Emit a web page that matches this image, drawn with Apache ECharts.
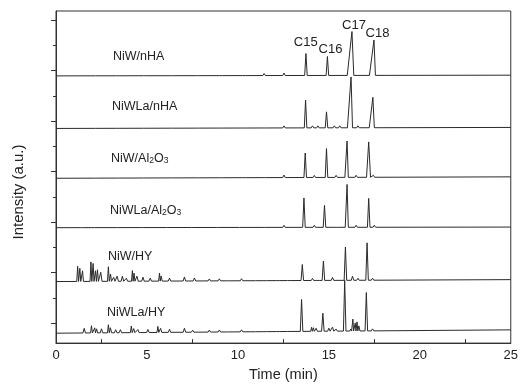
<!DOCTYPE html>
<html>
<head>
<meta charset="utf-8">
<script src="https://cdn.jsdelivr.net/npm/echarts@6/dist/echarts.min.js"></script>
<style>
  html, body { margin: 0; padding: 0; background: #fff; }
  #chart { width: 521px; height: 387px; }
</style>
</head>
<body>
<div id="chart"></div>
<script>
// Sample names, top to bottom
const sampleNames = ['NiW/nHA', 'NiWLa/nHA', 'NiW/Al2O3', 'NiWLa/Al2O3', 'NiW/HY', 'NiWLa/HY'];

// Vertical offset of each trace (intensity at t = 0 and t = 25 min)
const traceOffsets = [
  [244.7, 245.4],
  [192.7, 193.7],
  [143.4, 144.8],
  [94.5, 95.1],
  [41.2, 43.1],
  [-9.9, -6.6]
];

// Peaks: [retention time (min), intensity, left half-width, right half-width]
const peaksNiWnHA = [
  [2.24, 1], [3.4, 1], [4.87, 1.2], [6.33, 1], [7.78, 1], [9.07, 1], [10.34, 1],
  [11.44, 2], [12.53, 2.5],
  [13.74, 21.7], [14.92, 18.8], [16.27, 43.4, 0.26, 0.1], [17.48, 35, 0.25, 0.08]
];
const peaksNiWLanHA = [
  [2.24, 1], [3.4, 1], [4.87, 1], [6.33, 1], [7.78, 1], [9.07, 1], [10.34, 1],
  [11.44, 1.5], [12.53, 2],
  [13.72, 27.6], [14.1, 2], [14.4, 2], [14.87, 15.8], [15.3, 2], [15.6, 2],
  [16.22, 50.3, 0.2, 0.08], [16.6, 2], [17.42, 30.1, 0.2, 0.08]
];
const peaksNiWAl2O3 = [
  [2.2, 1], [3.4, 1], [4.87, 1.5], [6.33, 1], [7.78, 1], [9.07, 1], [10.34, 1],
  [11.44, 1.5], [12.53, 2.5],
  [13.7, 24.2], [14.2, 2], [14.87, 28.6], [15.4, 2], [16.0, 36, 0.12, 0.07],
  [16.5, 2], [17.19, 35, 0.12, 0.1], [17.45, 2]
];
const peaksNiWLaAl2O3 = [
  [1.4, 1], [2.04, 1], [3.32, 1], [4.69, 1], [6.14, 1], [7.51, 1], [8.88, 1], [10.16, 1],
  [11.44, 1.5], [12.53, 2],
  [13.63, 29.1], [14.2, 2], [14.76, 21.7], [15.4, 1.5], [16.0, 42.4, 0.1, 0.07],
  [16.5, 2], [17.19, 28.6], [17.5, 2]
];
const peaksNiWHY = [
  [1.19, 15, 0.05, 0.05], [1.31, 13, 0.05, 0.05], [1.46, 10.5, 0.05, 0.05],
  [1.92, 19.3, 0.05, 0.05], [2.04, 17.8, 0.05, 0.05], [2.17, 10.5, 0.05, 0.05],
  [2.28, 11.5, 0.05, 0.05], [2.46, 9], [2.88, 14.4, 0.05, 0.05], [3.0, 7, 0.05, 0.05],
  [3.17, 4], [3.36, 5], [3.65, 5], [3.87, 3], [4.2, 10.5, 0.05, 0.04], [4.29, 8, 0.04, 0.05],
  [4.45, 5], [4.78, 4], [5.18, 3], [5.69, 8, 0.05, 0.04], [5.78, 5, 0.04, 0.06], [6.24, 3],
  [7.06, 4], [7.61, 3], [8.43, 2], [8.98, 2], [9.5, 1.5], [10.2, 2], [10.9, 1.5],
  [11.5, 1.5], [12.2, 1.5], [12.8, 1.5],
  [13.54, 15.8], [14.1, 2], [14.4, 1.5], [14.7, 19.2], [15.2, 3], [15.91, 33],
  [16.3, 4], [16.6, 2], [17.1, 37], [17.4, 2]
];
const peaksNiWLaHY = [
  [1.55, 4.6], [1.95, 7.2, 0.05, 0.05], [2.13, 5, 0.05, 0.04], [2.23, 4, 0.04, 0.06],
  [2.5, 4], [2.88, 8, 0.05, 0.05], [2.99, 5], [3.28, 3], [3.54, 3],
  [4.14, 6.6, 0.05, 0.05], [4.27, 4], [4.5, 3], [5.05, 3], [5.6, 6, 0.05, 0.05],
  [5.75, 4], [6.24, 3], [7.06, 4], [7.51, 2], [8.43, 2], [8.98, 2], [9.5, 1.5],
  [10.2, 2], [10.9, 1.5], [11.5, 1.5], [12.2, 1.5], [12.8, 1.5],
  [13.5, 31.6], [14.05, 4, 0.05, 0.04], [14.15, 3.5, 0.04, 0.05], [14.3, 3],
  [14.67, 17.8], [15.0, 3], [15.2, 4], [15.4, 2], [15.87, 50.3],
  [16.2, 2, 0.05, 0.05], [16.32, 11.8, 0.05, 0.04], [16.45, 8, 0.04, 0.04],
  [16.55, 9, 0.04, 0.04], [16.65, 5, 0.04, 0.06], [17.06, 38], [17.4, 2]
];
const tracePeaks = [peaksNiWnHA, peaksNiWLanHA, peaksNiWAl2O3, peaksNiWLaAl2O3, peaksNiWHY, peaksNiWLaHY];

// Carbon-number labels above the NiW/nHA peaks
const carbonLabels = ['C15', 'C16', 'C17', 'C18'];

// Axis ticks
const timeTicks = [0, 5, 10, 15, 20, 25];
const timeMinorTicks = [2.5, 7.5, 12.5, 17.5, 22.5];
const intensityTicks = [0, 50, 100, 150, 200, 250, 300];
const intensityMinorTicks = [25, 75, 125, 175, 225, 275];

// Turn a peak list into a polyline on a (slightly drifting) baseline
function buildTrace(peaks, offset) {
  const [b0, b1] = offset;
  const base = t => b0 + (b1 - b0) * t / 25;
  const pts = [[0, base(0)]];
  let lastX = 0;
  peaks.forEach(p => {
    const t = p[0], h = p[1];
    const wl = p[2] !== undefined ? p[2] : 0.07;
    const wr = p[3] !== undefined ? p[3] : 0.07;
    const l = Math.max(t - wl, lastX);
    const r = t + wr;
    if (l > lastX) pts.push([l, base(l)]);
    pts.push([t, base(t) + h], [r, base(r)]);
    lastX = r;
  });
  pts.push([25, base(25)]);
  return pts;
}

const FONT = '"Liberation Sans", Arial, sans-serif';
const INK = '#222';

const chart = echarts.init(document.getElementById('chart'), null, { renderer: 'canvas' });

const series = tracePeaks.map((pk, i) => ({
  type: 'line',
  name: sampleNames[i],
  data: buildTrace(pk, traceOffsets[i]),
  showSymbol: false,
  symbol: 'none',
  lineStyle: { color: '#2a2a2a', width: 1 },
  silent: true,
  z: 3
}));

// Rich-text versions of the sample names (Al2O3 with subscripts)
function richName(name) {
  return name.replace(/Al2O3/, '{n|Al}{s|2}{n|O}{s|3}').replace(/^([^{]*)/, m => m ? '{n|' + m + '}' : '');
}
const nameRich = {
  n: { fontSize: 12.5, fontFamily: FONT, fill: INK, color: INK, lineHeight: 16, verticalAlign: 'bottom' },
  s: { fontSize: 8.5, fontFamily: FONT, fill: INK, color: INK, lineHeight: 9, verticalAlign: 'bottom' }
};
const nameSpots = [[113, 55], [112, 105], [111, 157], [110, 209], [108, 255], [107, 311]];
const carbonSpots = [[305.7, 42], [330.5, 49.5], [354, 25], [377.5, 33]];

const graphics = [];
sampleNames.forEach((nm, i) => {
  graphics.push({
    type: 'text',
    x: nameSpots[i][0],
    y: nameSpots[i][1],
    style: {
      text: richName(nm),
      rich: nameRich,
      verticalAlign: 'middle',
      align: 'left'
    },
    z: 10
  });
});
carbonLabels.forEach((c, i) => {
  graphics.push({
    type: 'text',
    x: carbonSpots[i][0],
    y: carbonSpots[i][1],
    style: {
      text: c,
      font: '13px ' + FONT,
      fill: INK,
      align: 'center',
      verticalAlign: 'middle'
    },
    z: 10
  });
});
// Vertical axis title
graphics.push({
  type: 'text',
  x: 19,
  y: 192,
  rotation: Math.PI / 2,
  style: {
    text: 'Intensity (a.u.)',
    font: '15px ' + FONT,
    fill: INK,
    align: 'center',
    verticalAlign: 'middle'
  },
  z: 10
});

const option = {
  animation: false,
  backgroundColor: '#fff',
  grid: {
    left: 56, right: 7.5, top: 11, bottom: 43,
    show: true, borderColor: '#333', borderWidth: 1, backgroundColor: 'transparent'
  },
  xAxis: {
    type: 'value',
    min: 0, max: 25, interval: 5,
    name: 'Time (min)',
    nameLocation: 'middle',
    nameGap: 20,
    nameTextStyle: { fontSize: 14.5, fontFamily: FONT, color: INK },
    axisLine: { show: true, onZero: false, lineStyle: { color: '#333', width: 1 } },
    axisTick: { show: true, inside: true, length: 4, customValues: timeMinorTicks, lineStyle: { color: '#333' } },
    axisLabel: { show: true, customValues: timeTicks, fontSize: 13, fontFamily: FONT, color: INK, margin: 6 },
    splitLine: { show: false }
  },
  yAxis: [
    {
      type: 'value',
      min: -19.7, max: 308.9,
      axisLine: { show: true, onZero: false, lineStyle: { color: '#333', width: 1 } },
      axisTick: { show: true, inside: false, length: 5, customValues: intensityTicks, lineStyle: { color: '#333' } },
      axisLabel: { show: false },
      splitLine: { show: false }
    },
    {
      type: 'value',
      position: 'left',
      min: -19.7, max: 308.9,
      axisLine: { show: false },
      axisTick: { show: true, inside: false, length: 3, customValues: intensityMinorTicks, lineStyle: { color: '#333' } },
      axisLabel: { show: false },
      splitLine: { show: false }
    }
  ],
  series: series,
  graphic: graphics
};

chart.setOption(option);
</script>
</body>
</html>
